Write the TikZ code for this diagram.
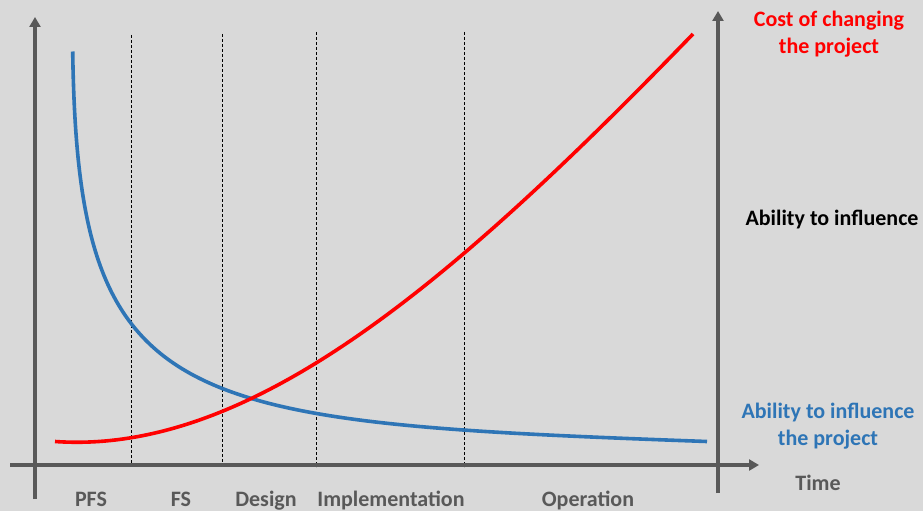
\documentclass[tikz,border=0pt]{standalone}
\usepackage{fontspec}
\setmainfont{Carlito}
\usetikzlibrary{arrows.meta}
\definecolor{bg}{HTML}{D9D9D9}
\definecolor{axisgray}{HTML}{595959}
\definecolor{ablue}{HTML}{2E75B6}
\definecolor{cred}{HTML}{FF0000}
\tikzset{
  axisline/.style={draw=axisgray, line width=3.5pt, -{Triangle[length=10pt,width=11pt]}},
  phase/.style={draw=black, line width=0.9pt, dash pattern=on 3pt off 2pt},
  curve/.style={line width=3.6pt, line cap=butt},
  lbl/.style={font=\bfseries\fontsize{22}{27}\selectfont, align=center, inner sep=0pt},
  phaselbl/.style={font=\bfseries\fontsize{22}{27}\selectfont, text=axisgray, inner sep=0pt, anchor=base},
}
\begin{document}
\begin{tikzpicture}[x=1pt,y=-1pt]
  \fill[bg] (0,0) rectangle (923,511);
  \useasboundingbox (0,0) rectangle (923,511);
  % axes
  \coordinate (yb) at (35,499);
  \coordinate (yt) at (35,17);
  \coordinate (xl) at (10,465);
  \coordinate (xr) at (759,465);
  \coordinate (rb) at (718,493);
  \coordinate (rt) at (718,11);
  % phase boundaries
  \coordinate (d1t) at (131,35);  \coordinate (d1b) at (131,467);
  \coordinate (d2t) at (222,34);  \coordinate (d2b) at (222,467);
  \coordinate (d3t) at (316,32);  \coordinate (d3b) at (316,467);
  \coordinate (d4t) at (464,32);  \coordinate (d4b) at (464,467);
  \foreach \i in {1,2,3,4} \draw[phase] (d\i t) -- (d\i b);
  \draw[axisline] (yb) -- (yt);
  \draw[axisline] (xl) -- (xr);
  \draw[axisline] (rb) -- (rt);
  % ability curve
  \coordinate (bs) at (72.7,51.5);
  \coordinate (be) at (707,441.5);
  \draw[curve, ablue] (bs) .. controls (78,410) and (170,422) .. (be);
  % cost curve
  \coordinate (rs) at (55,441.5);
  \coordinate (re) at (693,34);
  \draw[curve, cred] (rs) .. controls (250,455) and (450,285) .. (re);
  % labels
  \node[lbl, text=cred, anchor=north] (cost) at (829,11) {Cost of changing\\the project};
  \node[lbl, text=black, anchor=base] (abil) at (832,225) {Ability to influence};
  \node[lbl, text=ablue, anchor=north] (abilp) at (828,403) {Ability to influence\\the project};
  \node[phaselbl] (time) at (818,490) {Time};
  \node[phaselbl] (pfs) at (91,506) {PFS};
  \node[phaselbl] (fs) at (181,506) {FS};
  \node[phaselbl] (des) at (266,506) {Design};
  \node[phaselbl] (imp) at (391,506) {Implementation};
  \node[phaselbl] (op) at (588,506) {Operation};
\end{tikzpicture}
\end{document}
